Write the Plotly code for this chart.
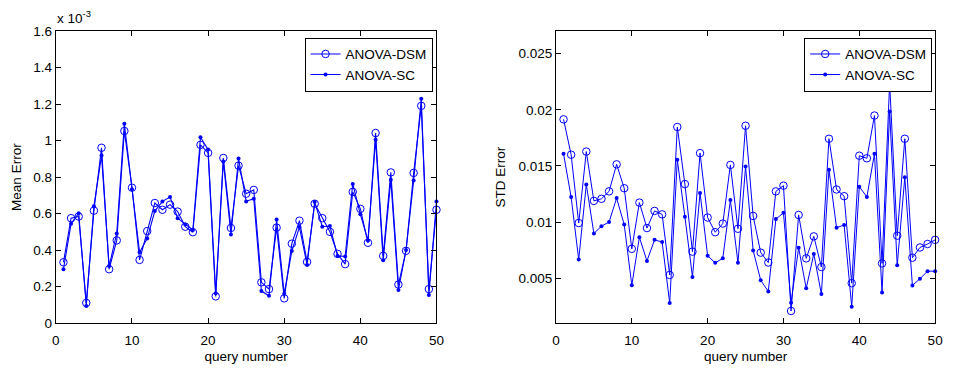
import plotly.graph_objects as go

# query numbers
queries = list(range(1, 51))

# Mean error (units of 1e-3)
mean_dsm = [0.333, 0.575, 0.584, 0.110, 0.616, 0.961, 0.295, 0.453, 1.053, 0.742,
            0.346, 0.504, 0.658, 0.621, 0.649, 0.611, 0.528, 0.498, 0.977, 0.933,
            0.146, 0.905, 0.521, 0.863, 0.709, 0.730, 0.223, 0.186, 0.523, 0.135,
            0.435, 0.561, 0.335, 0.654, 0.575, 0.500, 0.379, 0.323, 0.719, 0.626,
            0.440, 1.042, 0.368, 0.826, 0.211, 0.396, 0.823, 1.191, 0.186, 0.621]
mean_sc = [0.295, 0.544, 0.602, 0.093, 0.640, 0.918, 0.312, 0.491, 1.093, 0.733,
           0.388, 0.463, 0.614, 0.667, 0.691, 0.575, 0.540, 0.510, 1.019, 0.951,
           0.163, 0.886, 0.486, 0.902, 0.667, 0.681, 0.175, 0.149, 0.567, 0.160,
           0.395, 0.526, 0.318, 0.663, 0.528, 0.532, 0.368, 0.365, 0.763, 0.596,
           0.453, 1.005, 0.344, 0.786, 0.181, 0.400, 0.781, 1.230, 0.153, 0.667]

# STD error (units of 1e-3)
std_dsm = [19.15, 16.00, 9.91, 16.28, 11.88, 12.07, 12.73, 15.14, 13.01, 7.61,
           11.73, 9.46, 10.99, 10.68, 5.28, 18.47, 13.38, 7.36, 16.14, 10.40,
           9.09, 9.86, 15.09, 9.40, 18.58, 10.54, 7.27, 6.39, 12.73, 13.24,
           2.07, 10.63, 6.76, 8.72, 5.99, 17.42, 12.90, 12.30, 4.55, 15.91,
           15.68, 19.49, 6.31, 22.36, 8.78, 17.42, 6.82, 7.73, 8.04, 8.41]
std_sc = [16.08, 12.22, 6.65, 13.35, 8.98, 9.63, 10.00, 12.13, 9.77, 4.37,
          8.64, 6.53, 8.41, 8.21, 2.78, 15.54, 10.48, 5.11, 12.59, 6.99,
          6.36, 6.76, 11.96, 6.36, 14.94, 7.47, 4.80, 3.81, 10.26, 10.82,
          2.81, 7.70, 4.09, 7.16, 3.58, 14.66, 9.49, 9.74, 2.44, 13.15,
          12.24, 16.08, 3.72, 19.86, 6.14, 13.98, 4.35, 4.94, 5.62, 5.62]

x_ticks = [0, 10, 20, 30, 40, 50]
mean_ticks = [0, 0.2, 0.4, 0.6, 0.8, 1.0, 1.2, 1.4, 1.6]
mean_ticktext = ["0", "0.2", "0.4", "0.6", "0.8", "1", "1.2", "1.4", "1.6"]
std_ticks = [0.005, 0.01, 0.015, 0.02, 0.025]
std_ticktext = ["0.005", "0.01", "0.015", "0.02", "0.025"]

W, H = 954, 371
BLUE = "#0000ff"
FONT = "Liberation Sans, Arial, Helvetica, sans-serif"
FS = 13.5

fig = go.Figure()

fig.add_trace(go.Scatter(x=queries, y=mean_dsm, mode="lines+markers", name="ANOVA-DSM",
                         line=dict(color=BLUE, width=1.1), cliponaxis=False,
                         marker=dict(symbol="circle-open", size=7.5, color=BLUE, line=dict(width=1)),
                         xaxis="x", yaxis="y", legend="legend"))
fig.add_trace(go.Scatter(x=queries, y=mean_sc, mode="lines+markers", name="ANOVA-SC",
                         line=dict(color=BLUE, width=1.1), cliponaxis=False,
                         marker=dict(symbol="circle", size=4, color=BLUE),
                         xaxis="x", yaxis="y", legend="legend"))
fig.add_trace(go.Scatter(x=queries, y=[v * 1e-3 for v in std_dsm], mode="lines+markers", name="ANOVA-DSM",
                         line=dict(color=BLUE, width=1), cliponaxis=False,
                         marker=dict(symbol="circle-open", size=7.5, color=BLUE, line=dict(width=1)),
                         xaxis="x2", yaxis="y2", legend="legend2"))
fig.add_trace(go.Scatter(x=queries, y=[v * 1e-3 for v in std_sc], mode="lines+markers", name="ANOVA-SC",
                         line=dict(color=BLUE, width=1), cliponaxis=False,
                         marker=dict(symbol="circle", size=4, color=BLUE),
                         xaxis="x2", yaxis="y2", legend="legend2"))

ydom = [1 - 329.3 / H, 1 - 25.3 / H]
axis_common = dict(showline=True, linecolor="black", linewidth=1, mirror="ticks",
                   ticks="inside", ticklen=5, tickcolor="black", showgrid=False,
                   zeroline=False, tickfont=dict(family=FONT, size=FS, color="black"))

fig.update_layout(
    width=W, height=H,
    margin=dict(l=0, r=0, t=0, b=0),
    paper_bgcolor="white", plot_bgcolor="white",
    font=dict(family=FONT, size=FS, color="black"),
    xaxis=dict(domain=[52.5 / W, 438 / W], range=[0, 50], tickvals=x_ticks, anchor="y",
               ticklabelstandoff=5,
               title=dict(text="query number", standoff=4, font=dict(size=FS)), **axis_common),
    yaxis=dict(domain=ydom, range=[0, 1.6], tickvals=mean_ticks, ticktext=mean_ticktext, anchor="x",
               title=dict(text="Mean Error", standoff=8, font=dict(size=FS)), **axis_common),
    xaxis2=dict(domain=[559 / W, 943 / W], range=[0, 50], tickvals=x_ticks, anchor="y2",
                ticklabelstandoff=5,
                title=dict(text="query number", standoff=4, font=dict(size=FS)), **axis_common),
    yaxis2=dict(domain=ydom, range=[0.001, 0.027], tickvals=std_ticks, ticktext=std_ticktext, anchor="x2",
                title=dict(text="STD Error", standoff=9, font=dict(size=FS)), **axis_common),
    legend=dict(x=434 / W, y=1 - 32 / H, xanchor="right", yanchor="top",
                bordercolor="black", borderwidth=1, bgcolor="white",
                font=dict(family=FONT, size=FS), tracegroupgap=0, itemwidth=30),
    legend2=dict(x=940 / W, y=1 - 32 / H, xanchor="right", yanchor="top",
                 bordercolor="black", borderwidth=1, bgcolor="white",
                 font=dict(family=FONT, size=FS), tracegroupgap=0, itemwidth=30),
    showlegend=True,
    annotations=[dict(text="x 10<sup>-3</sup>", x=52 / W, y=1 - 22 / H, xref="paper", yref="paper",
                      xanchor="left", yanchor="bottom", showarrow=False,
                      font=dict(family=FONT, size=FS, color="black"))],
)

fig.write_html("out.html")
